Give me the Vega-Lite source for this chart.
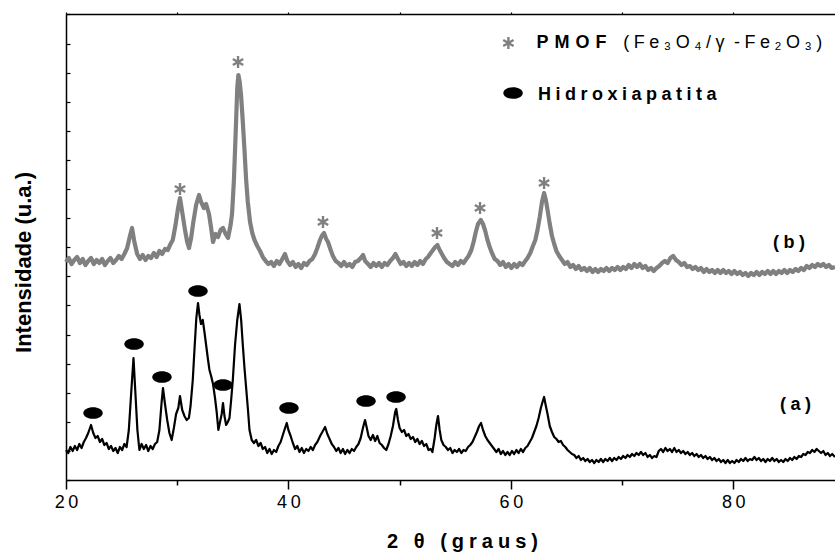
{
 "$schema": "https://vega.github.io/schema/vega-lite/v6.json",
 "width": 769, "height": 466,
 "autosize": "none",
 "padding": {"left": 66, "top": 14, "right": 0, "bottom": 72},
 "background": "white",
 "config": {"view": {"stroke": null}, "font": "Liberation Sans", "text": {"font": "Liberation Sans"}},
 "datasets": {
  "b": [
   {"x":20.0,"h":218},{"x":20.25,"h":222},{"x":20.5,"h":216},{"x":20.75,"h":220},{"x":21.0,"h":223},{"x":21.25,"h":217},{"x":21.5,"h":221},{"x":21.75,"h":215},{"x":22.0,"h":219},{"x":22.25,"h":222},{"x":22.5,"h":216},{"x":22.75,"h":220},{"x":23.0,"h":217},{"x":23.25,"h":221},{"x":23.5,"h":215},{"x":23.75,"h":219},{"x":24.0,"h":222},{"x":24.25,"h":217},{"x":24.5,"h":220},{"x":24.75,"h":224},{"x":25.0,"h":221},{"x":25.25,"h":226},{"x":25.5,"h":232},{"x":25.75,"h":244},{"x":25.94,"h":252},{"x":26.15,"h":238},{"x":26.4,"h":226},{"x":26.65,"h":221},{"x":26.9,"h":225},{"x":27.15,"h":220},{"x":27.4,"h":224},{"x":27.65,"h":222},{"x":27.9,"h":227},{"x":28.15,"h":223},{"x":28.4,"h":229},{"x":28.65,"h":226},{"x":28.9,"h":231},{"x":29.15,"h":230},{"x":29.4,"h":236},{"x":29.6,"h":240},{"x":29.85,"h":255},{"x":30.05,"h":270},{"x":30.25,"h":282},{"x":30.45,"h":268},{"x":30.7,"h":250},{"x":30.9,"h":238},{"x":31.06,"h":232},{"x":31.25,"h":242},{"x":31.45,"h":258},{"x":31.7,"h":275},{"x":31.96,"h":285},{"x":32.15,"h":278},{"x":32.4,"h":272},{"x":32.6,"h":276},{"x":32.86,"h":266},{"x":33.05,"h":252},{"x":33.22,"h":238},{"x":33.45,"h":246},{"x":33.67,"h":243},{"x":33.9,"h":250},{"x":34.12,"h":252},{"x":34.35,"h":246},{"x":34.57,"h":242},{"x":34.8,"h":255},{"x":34.93,"h":266},{"x":35.1,"h":300},{"x":35.25,"h":345},{"x":35.4,"h":392},{"x":35.5,"h":405},{"x":35.62,"h":398},{"x":35.74,"h":385},{"x":35.9,"h":358},{"x":36.05,"h":330},{"x":36.2,"h":300},{"x":36.35,"h":278},{"x":36.55,"h":258},{"x":36.75,"h":247},{"x":36.95,"h":240},{"x":37.2,"h":234},{"x":37.45,"h":229},{"x":37.7,"h":223},{"x":37.95,"h":219},{"x":38.2,"h":216},{"x":38.45,"h":218},{"x":38.7,"h":214},{"x":38.95,"h":219},{"x":39.2,"h":216},{"x":39.45,"h":221},{"x":39.69,"h":226},{"x":39.9,"h":219},{"x":40.15,"h":215},{"x":40.4,"h":218},{"x":40.65,"h":213},{"x":40.9,"h":216},{"x":41.15,"h":212},{"x":41.4,"h":217},{"x":41.65,"h":215},{"x":41.9,"h":219},{"x":42.15,"h":221},{"x":42.4,"h":226},{"x":42.6,"h":232},{"x":42.84,"h":240},{"x":43.0,"h":244},{"x":43.2,"h":247},{"x":43.4,"h":241},{"x":43.56,"h":238},{"x":43.8,"h":230},{"x":44.0,"h":224},{"x":44.25,"h":219},{"x":44.5,"h":217},{"x":44.75,"h":214},{"x":45.0,"h":218},{"x":45.25,"h":214},{"x":45.5,"h":216},{"x":45.75,"h":213},{"x":46.0,"h":218},{"x":46.25,"h":219},{"x":46.5,"h":222},{"x":46.71,"h":225},{"x":46.9,"h":219},{"x":47.16,"h":216},{"x":47.4,"h":213},{"x":47.65,"h":217},{"x":47.9,"h":214},{"x":48.15,"h":217},{"x":48.4,"h":213},{"x":48.65,"h":217},{"x":48.9,"h":215},{"x":49.15,"h":219},{"x":49.4,"h":222},{"x":49.62,"h":226},{"x":49.85,"h":221},{"x":50.1,"h":216},{"x":50.35,"h":218},{"x":50.6,"h":214},{"x":50.85,"h":217},{"x":51.1,"h":214},{"x":51.35,"h":218},{"x":51.6,"h":215},{"x":51.85,"h":219},{"x":52.1,"h":216},{"x":52.35,"h":221},{"x":52.55,"h":223},{"x":52.8,"h":227},{"x":53.0,"h":230},{"x":53.2,"h":233},{"x":53.4,"h":235},{"x":53.6,"h":230},{"x":53.8,"h":226},{"x":54.0,"h":222},{"x":54.25,"h":218},{"x":54.5,"h":216},{"x":54.75,"h":214},{"x":55.0,"h":218},{"x":55.25,"h":215},{"x":55.5,"h":219},{"x":55.75,"h":217},{"x":56.0,"h":221},{"x":56.2,"h":224},{"x":56.45,"h":230},{"x":56.65,"h":238},{"x":56.85,"h":248},{"x":57.05,"h":256},{"x":57.3,"h":260},{"x":57.5,"h":256},{"x":57.7,"h":249},{"x":57.9,"h":240},{"x":58.1,"h":233},{"x":58.3,"h":227},{"x":58.55,"h":221},{"x":58.8,"h":219},{"x":59.05,"h":215},{"x":59.3,"h":218},{"x":59.55,"h":213},{"x":59.8,"h":216},{"x":60.05,"h":212},{"x":60.3,"h":216},{"x":60.55,"h":213},{"x":60.8,"h":217},{"x":61.05,"h":215},{"x":61.3,"h":219},{"x":61.5,"h":222},{"x":61.75,"h":227},{"x":61.95,"h":233},{"x":62.2,"h":240},{"x":62.4,"h":250},{"x":62.6,"h":263},{"x":62.8,"h":278},{"x":62.99,"h":287},{"x":63.15,"h":280},{"x":63.3,"h":270},{"x":63.5,"h":256},{"x":63.7,"h":244},{"x":63.9,"h":236},{"x":64.1,"h":229},{"x":64.35,"h":224},{"x":64.6,"h":220},{"x":64.85,"h":216},{"x":65.1,"h":218},{"x":65.35,"h":213},{"x":65.6,"h":215},{"x":65.85,"h":211},{"x":66.1,"h":214},{"x":66.35,"h":210},{"x":66.6,"h":212},{"x":66.85,"h":209},{"x":67.1,"h":212},{"x":67.35,"h":208},{"x":67.6,"h":211},{"x":67.85,"h":208},{"x":68.1,"h":211},{"x":68.35,"h":209},{"x":68.6,"h":212},{"x":68.85,"h":209},{"x":69.1,"h":212},{"x":69.35,"h":210},{"x":69.6,"h":213},{"x":69.85,"h":210},{"x":70.1,"h":213},{"x":70.35,"h":211},{"x":70.6,"h":215},{"x":70.85,"h":212},{"x":71.1,"h":216},{"x":71.35,"h":213},{"x":71.6,"h":216},{"x":71.85,"h":212},{"x":72.1,"h":214},{"x":72.35,"h":210},{"x":72.6,"h":212},{"x":72.85,"h":209},{"x":73.1,"h":212},{"x":73.35,"h":214},{"x":73.6,"h":217},{"x":73.85,"h":219},{"x":74.1,"h":217},{"x":74.35,"h":222},{"x":74.6,"h":224},{"x":74.85,"h":220},{"x":75.1,"h":218},{"x":75.35,"h":215},{"x":75.6,"h":217},{"x":75.85,"h":213},{"x":76.1,"h":214},{"x":76.35,"h":211},{"x":76.6,"h":213},{"x":76.85,"h":210},{"x":77.1,"h":212},{"x":77.35,"h":208},{"x":77.6,"h":211},{"x":77.85,"h":208},{"x":78.1,"h":210},{"x":78.35,"h":207},{"x":78.6,"h":210},{"x":78.85,"h":207},{"x":79.1,"h":210},{"x":79.35,"h":207},{"x":79.6,"h":209},{"x":79.85,"h":206},{"x":80.1,"h":209},{"x":80.35,"h":206},{"x":80.6,"h":208},{"x":80.85,"h":205},{"x":81.1,"h":207},{"x":81.35,"h":204},{"x":81.6,"h":207},{"x":81.85,"h":205},{"x":82.1,"h":208},{"x":82.35,"h":205},{"x":82.6,"h":208},{"x":82.85,"h":206},{"x":83.1,"h":209},{"x":83.35,"h":206},{"x":83.6,"h":209},{"x":83.85,"h":206},{"x":84.1,"h":209},{"x":84.35,"h":207},{"x":84.6,"h":210},{"x":84.85,"h":207},{"x":85.1,"h":210},{"x":85.35,"h":208},{"x":85.6,"h":211},{"x":85.85,"h":209},{"x":86.1,"h":212},{"x":86.35,"h":210},{"x":86.6,"h":214},{"x":86.85,"h":212},{"x":87.1,"h":215},{"x":87.35,"h":213},{"x":87.6,"h":216},{"x":87.85,"h":214},{"x":88.1,"h":216},{"x":88.35,"h":213},{"x":88.6,"h":215},{"x":88.85,"h":212},{"x":89.15,"h":213}
  ],
  "a": [
   {"x":20.0,"h":30},{"x":20.2,"h":27},{"x":20.4,"h":33},{"x":20.6,"h":29},{"x":20.8,"h":34},{"x":21.0,"h":30},{"x":21.2,"h":36},{"x":21.4,"h":32},{"x":21.6,"h":38},{"x":21.8,"h":42},{"x":22.0,"h":47},{"x":22.25,"h":55},{"x":22.45,"h":47},{"x":22.65,"h":42},{"x":22.85,"h":44},{"x":23.05,"h":38},{"x":23.25,"h":41},{"x":23.45,"h":35},{"x":23.65,"h":37},{"x":23.85,"h":31},{"x":24.05,"h":34},{"x":24.25,"h":29},{"x":24.45,"h":32},{"x":24.65,"h":27},{"x":24.85,"h":33},{"x":25.05,"h":30},{"x":25.25,"h":36},{"x":25.45,"h":33},{"x":25.65,"h":50},{"x":25.85,"h":85},{"x":26.07,"h":122},{"x":26.25,"h":85},{"x":26.42,"h":50},{"x":26.6,"h":30},{"x":26.8,"h":36},{"x":27.0,"h":31},{"x":27.2,"h":35},{"x":27.4,"h":29},{"x":27.6,"h":34},{"x":27.8,"h":31},{"x":28.0,"h":36},{"x":28.2,"h":38},{"x":28.4,"h":50},{"x":28.6,"h":78},{"x":28.72,"h":92},{"x":28.9,"h":76},{"x":29.1,"h":60},{"x":29.3,"h":47},{"x":29.5,"h":40},{"x":29.7,"h":52},{"x":29.9,"h":66},{"x":30.1,"h":72},{"x":30.25,"h":84},{"x":30.45,"h":70},{"x":30.65,"h":64},{"x":30.85,"h":60},{"x":31.05,"h":62},{"x":31.2,"h":74},{"x":31.4,"h":100},{"x":31.55,"h":130},{"x":31.72,"h":162},{"x":31.87,"h":177},{"x":32.0,"h":165},{"x":32.14,"h":156},{"x":32.3,"h":160},{"x":32.45,"h":148},{"x":32.6,"h":135},{"x":32.75,"h":122},{"x":32.9,"h":110},{"x":33.05,"h":104},{"x":33.22,"h":96},{"x":33.4,"h":82},{"x":33.55,"h":68},{"x":33.7,"h":50},{"x":33.85,"h":58},{"x":34.0,"h":66},{"x":34.12,"h":77},{"x":34.25,"h":64},{"x":34.4,"h":55},{"x":34.55,"h":58},{"x":34.7,"h":62},{"x":34.85,"h":80},{"x":35.0,"h":100},{"x":35.2,"h":135},{"x":35.4,"h":160},{"x":35.6,"h":176},{"x":35.75,"h":160},{"x":35.9,"h":135},{"x":36.05,"h":112},{"x":36.2,"h":92},{"x":36.35,"h":72},{"x":36.5,"h":50},{"x":36.7,"h":40},{"x":36.9,"h":37},{"x":37.1,"h":40},{"x":37.3,"h":34},{"x":37.5,"h":37},{"x":37.7,"h":31},{"x":37.9,"h":33},{"x":38.1,"h":27},{"x":38.3,"h":31},{"x":38.5,"h":26},{"x":38.7,"h":30},{"x":38.9,"h":28},{"x":39.1,"h":34},{"x":39.3,"h":38},{"x":39.5,"h":45},{"x":39.7,"h":52},{"x":39.85,"h":57},{"x":40.0,"h":50},{"x":40.2,"h":44},{"x":40.4,"h":37},{"x":40.6,"h":31},{"x":40.8,"h":34},{"x":41.0,"h":28},{"x":41.2,"h":32},{"x":41.4,"h":27},{"x":41.6,"h":31},{"x":41.8,"h":29},{"x":42.0,"h":33},{"x":42.2,"h":30},{"x":42.4,"h":35},{"x":42.6,"h":38},{"x":42.85,"h":44},{"x":43.05,"h":48},{"x":43.3,"h":53},{"x":43.5,"h":46},{"x":43.7,"h":41},{"x":43.9,"h":36},{"x":44.1,"h":33},{"x":44.3,"h":29},{"x":44.5,"h":32},{"x":44.7,"h":27},{"x":44.9,"h":31},{"x":45.1,"h":26},{"x":45.3,"h":30},{"x":45.5,"h":27},{"x":45.7,"h":31},{"x":45.9,"h":29},{"x":46.1,"h":33},{"x":46.3,"h":36},{"x":46.5,"h":42},{"x":46.7,"h":52},{"x":46.89,"h":60},{"x":47.05,"h":52},{"x":47.2,"h":44},{"x":47.4,"h":40},{"x":47.6,"h":45},{"x":47.8,"h":39},{"x":48.0,"h":44},{"x":48.2,"h":37},{"x":48.4,"h":35},{"x":48.6,"h":32},{"x":48.8,"h":30},{"x":49.0,"h":36},{"x":49.2,"h":44},{"x":49.4,"h":54},{"x":49.6,"h":68},{"x":49.7,"h":71},{"x":49.85,"h":60},{"x":50.0,"h":52},{"x":50.2,"h":48},{"x":50.4,"h":50},{"x":50.6,"h":44},{"x":50.8,"h":46},{"x":51.0,"h":41},{"x":51.2,"h":43},{"x":51.4,"h":38},{"x":51.6,"h":41},{"x":51.8,"h":36},{"x":52.0,"h":39},{"x":52.2,"h":34},{"x":52.4,"h":36},{"x":52.6,"h":30},{"x":52.8,"h":31},{"x":52.95,"h":28},{"x":53.15,"h":42},{"x":53.3,"h":55},{"x":53.45,"h":64},{"x":53.6,"h":50},{"x":53.75,"h":40},{"x":53.95,"h":35},{"x":54.15,"h":33},{"x":54.35,"h":30},{"x":54.55,"h":32},{"x":54.75,"h":27},{"x":54.95,"h":30},{"x":55.15,"h":28},{"x":55.35,"h":31},{"x":55.55,"h":27},{"x":55.75,"h":30},{"x":55.95,"h":29},{"x":56.15,"h":33},{"x":56.35,"h":35},{"x":56.55,"h":38},{"x":56.75,"h":43},{"x":56.95,"h":48},{"x":57.15,"h":54},{"x":57.32,"h":57},{"x":57.5,"h":50},{"x":57.7,"h":44},{"x":57.9,"h":40},{"x":58.1,"h":37},{"x":58.3,"h":34},{"x":58.5,"h":31},{"x":58.7,"h":28},{"x":58.9,"h":31},{"x":59.1,"h":26},{"x":59.3,"h":29},{"x":59.5,"h":25},{"x":59.7,"h":28},{"x":59.9,"h":25},{"x":60.1,"h":29},{"x":60.3,"h":26},{"x":60.5,"h":30},{"x":60.7,"h":27},{"x":60.9,"h":31},{"x":61.1,"h":28},{"x":61.3,"h":32},{"x":61.5,"h":34},{"x":61.7,"h":38},{"x":61.9,"h":42},{"x":62.1,"h":48},{"x":62.3,"h":54},{"x":62.5,"h":62},{"x":62.7,"h":72},{"x":62.85,"h":78},{"x":62.99,"h":83},{"x":63.15,"h":74},{"x":63.3,"h":66},{"x":63.5,"h":54},{"x":63.7,"h":48},{"x":63.9,"h":43},{"x":64.1,"h":41},{"x":64.3,"h":38},{"x":64.5,"h":39},{"x":64.7,"h":35},{"x":64.9,"h":33},{"x":65.1,"h":30},{"x":65.3,"h":28},{"x":65.5,"h":26},{"x":65.7,"h":25},{"x":65.9,"h":22},{"x":66.1,"h":24},{"x":66.3,"h":20},{"x":66.5,"h":22},{"x":66.7,"h":19},{"x":66.9,"h":21},{"x":67.1,"h":18},{"x":67.3,"h":20},{"x":67.5,"h":17},{"x":67.7,"h":20},{"x":67.9,"h":18},{"x":68.1,"h":21},{"x":68.3,"h":18},{"x":68.5,"h":21},{"x":68.7,"h":19},{"x":68.9,"h":22},{"x":69.1,"h":19},{"x":69.3,"h":22},{"x":69.5,"h":20},{"x":69.7,"h":23},{"x":69.9,"h":21},{"x":70.1,"h":24},{"x":70.3,"h":22},{"x":70.5,"h":25},{"x":70.7,"h":23},{"x":70.9,"h":26},{"x":71.1,"h":24},{"x":71.3,"h":27},{"x":71.5,"h":25},{"x":71.7,"h":28},{"x":71.9,"h":25},{"x":72.1,"h":27},{"x":72.3,"h":23},{"x":72.5,"h":25},{"x":72.7,"h":22},{"x":72.9,"h":24},{"x":73.1,"h":23},{"x":73.3,"h":29},{"x":73.5,"h":31},{"x":73.7,"h":28},{"x":73.9,"h":32},{"x":74.1,"h":29},{"x":74.3,"h":31},{"x":74.5,"h":28},{"x":74.7,"h":32},{"x":74.9,"h":28},{"x":75.1,"h":30},{"x":75.3,"h":27},{"x":75.5,"h":29},{"x":75.7,"h":26},{"x":75.9,"h":28},{"x":76.1,"h":25},{"x":76.3,"h":27},{"x":76.5,"h":24},{"x":76.7,"h":26},{"x":76.9,"h":23},{"x":77.1,"h":25},{"x":77.3,"h":22},{"x":77.5,"h":24},{"x":77.7,"h":21},{"x":77.9,"h":23},{"x":78.1,"h":20},{"x":78.3,"h":22},{"x":78.5,"h":19},{"x":78.7,"h":21},{"x":78.9,"h":18},{"x":79.1,"h":20},{"x":79.3,"h":17},{"x":79.5,"h":20},{"x":79.7,"h":17},{"x":79.9,"h":19},{"x":80.1,"h":17},{"x":80.3,"h":20},{"x":80.5,"h":18},{"x":80.7,"h":21},{"x":80.9,"h":19},{"x":81.1,"h":22},{"x":81.3,"h":19},{"x":81.5,"h":21},{"x":81.7,"h":20},{"x":81.9,"h":23},{"x":82.1,"h":20},{"x":82.3,"h":22},{"x":82.5,"h":19},{"x":82.7,"h":21},{"x":82.9,"h":18},{"x":83.1,"h":21},{"x":83.3,"h":19},{"x":83.5,"h":22},{"x":83.7,"h":19},{"x":83.9,"h":21},{"x":84.1,"h":18},{"x":84.3,"h":20},{"x":84.5,"h":18},{"x":84.7,"h":21},{"x":84.9,"h":19},{"x":85.1,"h":22},{"x":85.3,"h":20},{"x":85.5,"h":23},{"x":85.7,"h":21},{"x":85.9,"h":24},{"x":86.1,"h":23},{"x":86.3,"h":26},{"x":86.5,"h":25},{"x":86.7,"h":28},{"x":86.9,"h":27},{"x":87.1,"h":30},{"x":87.3,"h":28},{"x":87.5,"h":31},{"x":87.7,"h":29},{"x":87.9,"h":27},{"x":88.1,"h":29},{"x":88.3,"h":25},{"x":88.5,"h":27},{"x":88.7,"h":24},{"x":88.9,"h":26},{"x":89.15,"h":23}
  ],
  "stars": [
   {"x":30.25,"h":291},{"x":35.47,"h":418},{"x":43.11,"h":258},{"x":53.36,"h":247},{"x":57.23,"h":272},{"x":62.99,"h":297},{"x":59.78,"h":437}
  ],
  "ovals": [
   {"x":22.43,"h":67},{"x":26.12,"h":136},{"x":28.63,"h":103},{"x":31.87,"h":189},{"x":34.12,"h":95},{"x":40.05,"h":72},{"x":46.98,"h":79},{"x":49.68,"h":83},{"x":60.2,"h":387}
  ]
 },
 "resolve": {"axis": {"x": "independent", "y": "independent"}},
 "layer": [
  {
   "data": {"name": "b"},
   "mark": {"type": "line", "color": "#808080", "strokeWidth": 4.2, "strokeJoin": "round"},
   "encoding": {
    "x": {"field": "x", "type": "quantitative",
     "scale": {"domain": [20, 89.15], "nice": false, "zero": false},
     "axis": {"orient": "bottom", "values": [20, 30, 40, 50, 60, 70, 80],
      "title": "2\u2005 \u2005θ\u2005 \u2005(\u2005g\u2005r\u2005a\u2005u\u2005s\u2005)",
      "titleFont": "Liberation Sans", "titleFontSize": 20, "titleFontWeight": "bold", "titleColor": "black",
      "titleX": 396, "titleY": 67, "titleBaseline": "alphabetic", "titleAlign": "center",
      "labelExpr": "datum.value % 20 == 0 ? join(split(datum.label, ''), '\u2009') : ''",
      "labelFont": "Liberation Sans", "labelFontSize": 18, "labelColor": "black", "labelPadding": 4,
      "labelFlush": false, "labelOverlap": false,
      "tickSize": {"condition": {"test": "datum.value % 20 == 0", "value": 9}, "value": 5},
      "tickColor": "black", "tickWidth": 1.5, "domainColor": "black", "domainWidth": 1.5, "grid": false}},
    "y": {"field": "h", "type": "quantitative",
     "scale": {"domain": [0, 466], "nice": false, "zero": false},
     "axis": {"orient": "left", "values": [0, 29.1, 58.2, 87.3, 116.4, 145.5, 174.6, 203.7, 232.8, 261.9, 291, 320.1, 349.2, 378.3, 407.4, 436.5, 465.6],
      "labels": false, "tickSize": -4, "tickColor": "black", "tickWidth": 1.2,
      "domainColor": "black", "domainWidth": 1.5, "grid": false,
      "title": "Intensidade (u.a.)", "titleFont": "Liberation Sans", "titleFontSize": 22, "titleFontWeight": "bold", "titleColor": "black",
      "titleX": -36, "titleY": 248, "titleAngle": -90, "titleBaseline": "alphabetic", "titleAlign": "center"}}
   }
  },
  {
   "data": {"name": "a"},
   "mark": {"type": "line", "color": "black", "strokeWidth": 2.2, "strokeJoin": "round"},
   "encoding": {
    "x": {"field": "x", "type": "quantitative",
     "axis": {"orient": "top", "values": [20, 30, 40, 50, 60, 70, 80], "labels": false, "title": null,
      "tickSize": 2, "tickColor": "black", "tickWidth": 1.2, "domainColor": "black", "domainWidth": 1.5, "grid": false}},
    "y": {"field": "h", "type": "quantitative", "axis": null}
   }
  },
  {
   "data": {"name": "stars"},
   "mark": {"type": "point", "shape": "M0,-1L0,1M-0.866,-0.5L0.866,0.5M-0.866,0.5L0.866,-0.5", "size": 144, "filled": false, "stroke": "#808080", "strokeWidth": 2.4, "opacity": 1},
   "encoding": {
    "x": {"field": "x", "type": "quantitative", "axis": null},
    "y": {"field": "h", "type": "quantitative", "axis": null}
   }
  },
  {
   "data": {"name": "ovals"},
   "mark": {"type": "point", "shape": "M-1,0A1,0.6,0,1,1,1,0A1,0.6,0,1,1,-1,0Z", "size": 380, "filled": true, "fill": "black", "strokeWidth": 0, "opacity": 1},
   "encoding": {
    "x": {"field": "x", "type": "quantitative", "axis": null},
    "y": {"field": "h", "type": "quantitative", "axis": null}
   }
  },
  {
   "data": {"values": [
    {"x": 62.31, "h": 432, "label": "P\u2004M\u2004O\u2004F"},
    {"x": 62.45, "h": 380, "label": "H\u2005i\u2005d\u2005r\u2005o\u2005x\u2005i\u2005a\u2005p\u2005a\u2005t\u2005i\u2005t\u2005a"}
   ]},
   "mark": {"type": "text", "align": "left", "baseline": "alphabetic", "fontSize": 18, "fontWeight": "bold", "color": "black", "font": "Liberation Sans"},
   "encoding": {
    "x": {"field": "x", "type": "quantitative", "axis": null},
    "y": {"field": "h", "type": "quantitative", "axis": null},
    "text": {"field": "label"}
   }
  },
  {
   "data": {"values": [
    {"x": 70.12, "h": 432, "label": "(\u2005F\u2005e\u2005₃\u2005O\u2005₄\u2005/\u2005γ\u2005 -\u2005F\u2005e\u2005₂\u2005O\u2005₃\u2005)"}
   ]},
   "mark": {"type": "text", "align": "left", "baseline": "alphabetic", "fontSize": 18, "fontWeight": "normal", "color": "black", "font": "Liberation Sans"},
   "encoding": {
    "x": {"field": "x", "type": "quantitative", "axis": null},
    "y": {"field": "h", "type": "quantitative", "axis": null},
    "text": {"field": "label"}
   }
  },
  {
   "data": {"values": [
    {"x": 85.02, "h": 232, "label": "(\u2005b\u2005)"},
    {"x": 85.6, "h": 70, "label": "(\u2005a\u2005)"}
   ]},
   "mark": {"type": "text", "align": "center", "baseline": "alphabetic", "fontSize": 18, "fontWeight": "bold", "color": "black", "font": "Liberation Sans"},
   "encoding": {
    "x": {"field": "x", "type": "quantitative", "axis": null},
    "y": {"field": "h", "type": "quantitative", "axis": null},
    "text": {"field": "label"}
   }
  }
 ]
}
